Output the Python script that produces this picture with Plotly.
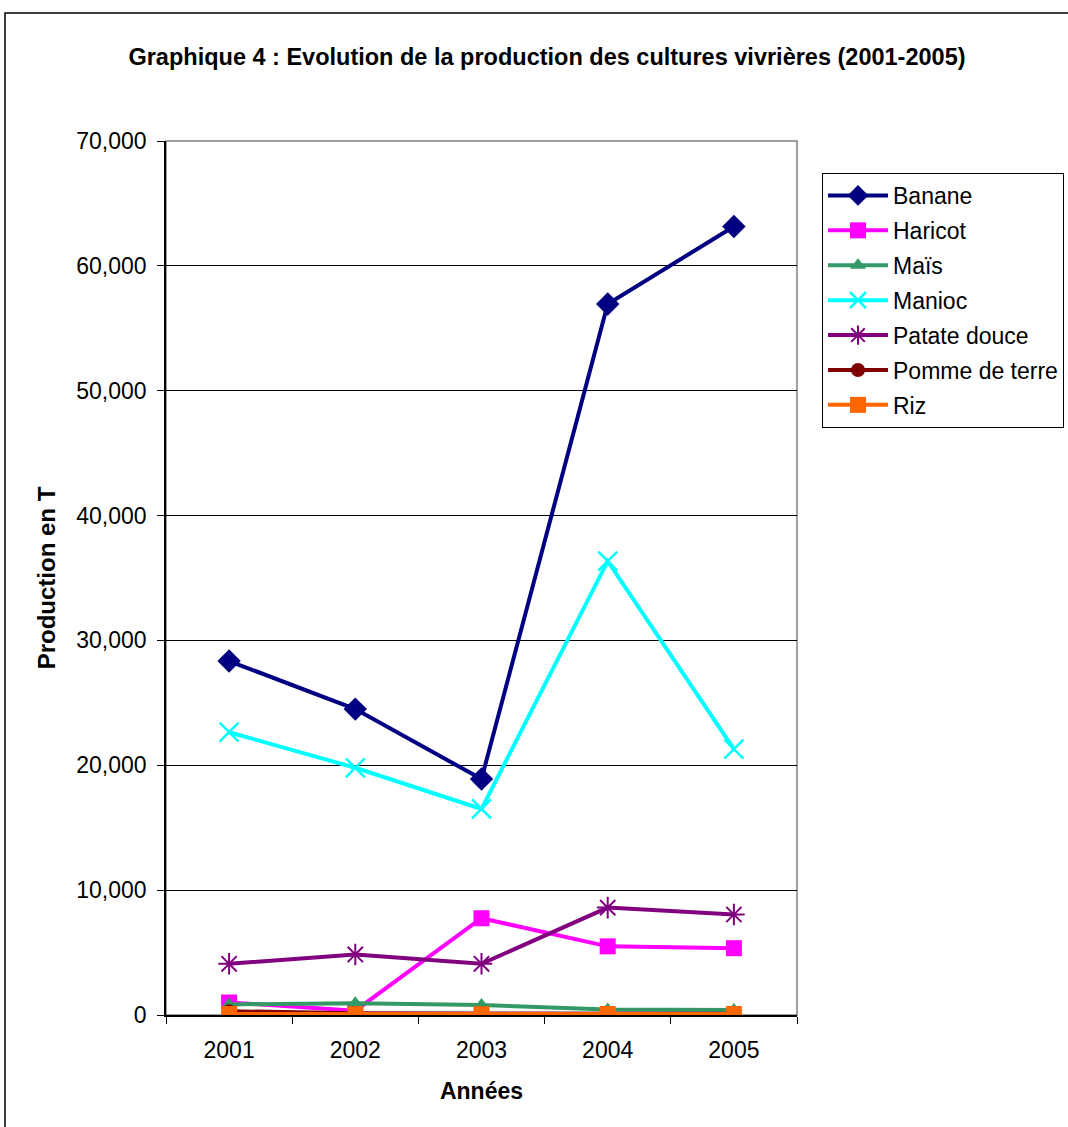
import plotly.graph_objects as go

# Years and production (tonnes) per crop
annees = ["2001", "2002", "2003", "2004", "2005"]
banane = [28350, 24500, 18900, 56950, 63150]
haricot = [1000, 350, 7750, 5500, 5350]
mais = [850, 950, 800, 450, 400]
manioc = [22650, 19800, 16500, 36350, 21300]
patate_douce = [4100, 4850, 4100, 8600, 8050]
pomme_de_terre = [300, 150, 120, 100, 100]
riz = [80, 60, 60, 80, 80]

series = [
    ("Banane", banane, "#000080", "diamond", 18, 0),
    ("Haricot", haricot, "#FF00FF", "square", 16, 0),
    ("Maïs", mais, "#339966", "triangle-up", 14, 0),
    ("Manioc", manioc, "#00FFFF", "x-thin-open", 19, 2.5),
    ("Patate douce", patate_douce, "#800080", "asterisk-open", 18, 2),
    ("Pomme de terre", pomme_de_terre, "#800000", "circle", 14, 0),
    ("Riz", riz, "#FF6600", "square", 16, 0),
]

fig = go.Figure()
for name, vals, color, symbol, size, mlw in series:
    fig.add_trace(go.Scatter(
        x=annees, y=vals, name=name, mode="lines+markers",
        legendgroup=name,
        line=dict(color=color, width=4),
        marker=dict(symbol=symbol, size=size, color=color,
                    line=dict(color=color, width=mlw)),
    ))

font = "Liberation Sans, Arial, sans-serif"
fs = 23
L, R, T, B = 166, 271, 141, 112
W, H = 1068, 1127
pw, ph = W - L - R, H - T - B


def px_x(x):
    return (x - L) / pw


def px_y(y):
    return (H - B - y) / ph


fig.update_layout(
    width=W, height=H,
    margin=dict(l=L, r=R, t=T, b=B, autoexpand=False),
    paper_bgcolor="white", plot_bgcolor="white",
    font=dict(family=font, size=fs, color="black"),
    title=dict(text="<b>Graphique 4 : Evolution de la production des cultures vivrières (2001-2005)</b>",
               x=547 / W, xref="container", xanchor="center", y=1 - 57 / H, yanchor="middle",
               font=dict(size=23.5)),
    showlegend=True,
    legend=dict(x=px_x(822), y=px_y(173), xanchor="left", yanchor="top",
                bordercolor="black", borderwidth=1, bgcolor="white",
                font=dict(size=fs), itemwidth=60, tracegroupgap=2,
                traceorder="grouped"),
    xaxis=dict(type="category", range=[-0.5, 4.5], tickson="boundaries",
               ticks="outside", ticklen=7, tickcolor="black",
               showline=True, linecolor="black", linewidth=1.5,
               showgrid=False, tickfont=dict(size=fs), ticklabelstandoff=14,
               title=dict(text="<b>Années</b>", font=dict(size=fs), standoff=21)),
    yaxis=dict(range=[0, 70000], dtick=10000, tickformat=",d",
               ticks="outside", ticklen=7, tickcolor="black",
               showline=True, linecolor="black", linewidth=1.5,
               showgrid=True, gridcolor="black", gridwidth=1,
               zeroline=False, tickfont=dict(size=fs), ticklabelstandoff=6,
               title=dict(text="<b>Production en T</b>", font=dict(size=24), standoff=14)),
    shapes=[
        # plot area frame
        dict(type="rect", xref="paper", yref="paper", x0=0, y0=0, x1=1, y1=1,
             line=dict(color="#808080", width=1.5), layer="below"),
        # chart outer border
        dict(type="rect", xref="paper", yref="paper",
             x0=px_x(5), y0=px_y(1135), x1=px_x(1075), y1=px_y(13),
             line=dict(color="black", width=1.5)),
    ],
)

fig.write_html("out.html")
